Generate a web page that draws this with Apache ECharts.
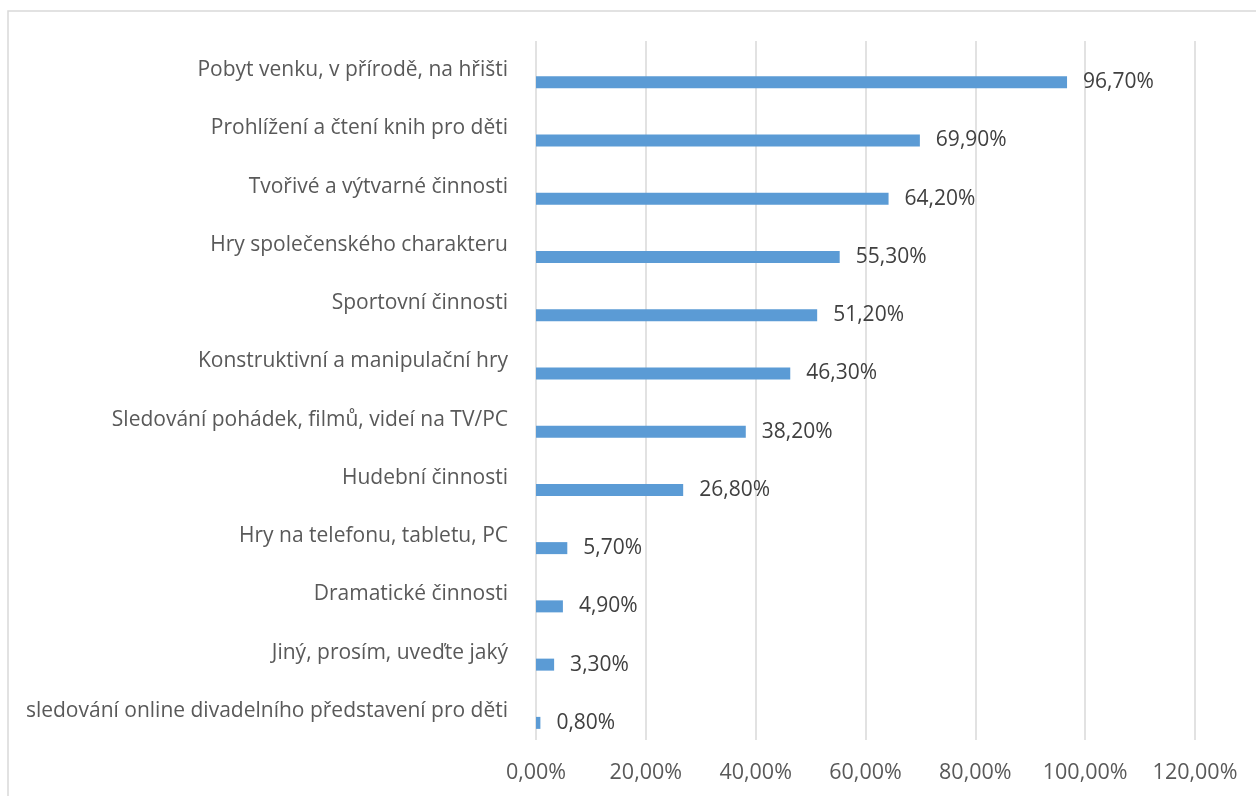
<!DOCTYPE html>
<html><head><meta charset="utf-8">
<script src="https://cdn.jsdelivr.net/npm/echarts@6/dist/echarts.min.js"></script>
<style>html,body{margin:0;padding:0;background:#fff}#c{width:1256px;height:796px}</style>
</head><body><div id="c"></div>
<script>
const categories = [
  'Pobyt venku, v přírodě, na hřišti',
  'Prohlížení a čtení knih pro děti',
  'Tvořivé a výtvarné činnosti',
  'Hry společenského charakteru',
  'Sportovní činnosti',
  'Konstruktivní a manipulační hry',
  'Sledování pohádek, filmů, videí na TV/PC',
  'Hudební činnosti',
  'Hry na telefonu, tabletu, PC',
  'Dramatické činnosti',
  'Jiný, prosím, uveďte jaký',
  'sledování online divadelního představení pro děti'
];
const values = [96.7, 69.9, 64.2, 55.3, 51.2, 46.3, 38.2, 26.8, 5.7, 4.9, 3.3, 0.8];
const xTicks = [0, 20, 40, 60, 80, 100, 120];

const fmt = v => v.toFixed(2).replace('.', ',') + '%';
const font = '"Open Sans", "Noto Sans", sans-serif';
const chart = echarts.init(document.getElementById('c'), null, {renderer: 'canvas'});
chart.setOption({
  animation: false,
  backgroundColor: '#fff',
  graphic: [{
    type: 'rect', shape: {x: 8, y: 11, width: 1262, height: 800},
    style: {fill: 'none', stroke: '#d9d9d9', lineWidth: 1.5}, silent: true
  }],
  grid: {left: 536, right: 61, top: 41, bottom: 56, containLabel: false},
  xAxis: {
    type: 'value', min: xTicks[0], max: xTicks[xTicks.length - 1], interval: 20,
    axisLine: {show: false}, axisTick: {show: false},
    splitLine: {show: true, lineStyle: {color: '#d9d9d9', width: 1.5}},
    axisLabel: {formatter: fmt, color: '#595959', fontSize: 21.5, fontFamily: font, margin: 22}
  },
  yAxis: {
    type: 'category', data: categories, inverse: true,
    axisLine: {show: false}, axisTick: {show: false},
    axisLabel: {color: '#595959', fontSize: 21, fontFamily: font, margin: 28, padding: [2, 0, 0, 0]}
  },
  series: [
    {type: 'bar', data: values.map(() => null), barWidth: 12, barGap: '100%', silent: true},
    {
      type: 'bar', data: values, barWidth: 12, barGap: '100%',
      itemStyle: {color: '#5b9bd5'},
      label: {show: true, position: 'right', distance: 16, formatter: p => fmt(p.value),
              color: '#404040', fontSize: 21, fontFamily: font, padding: [2, 0, 0, 0]}
    }
  ]
});
</script></body></html>
